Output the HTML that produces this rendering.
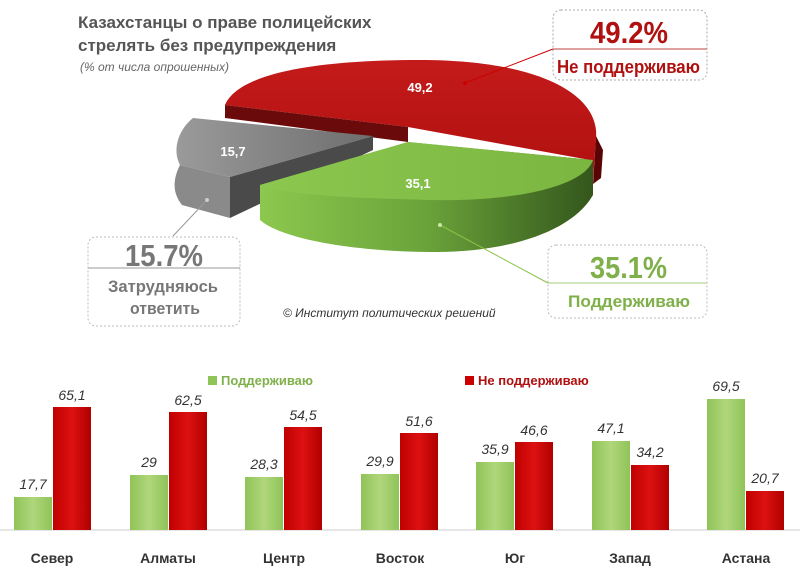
<!DOCTYPE html>
<html><head><meta charset="utf-8"><style>
body{margin:0;background:#fff;}
svg{display:block;font-family:"Liberation Sans",sans-serif;}
</style></head><body>
<svg width="800" height="574" viewBox="0 0 800 574">
<defs>
<linearGradient id="gside" x1="0" x2="1"><stop offset="0" stop-color="#8cc84e"/><stop offset="0.5" stop-color="#6aa33a"/><stop offset="1" stop-color="#34561c"/></linearGradient>
<linearGradient id="gtop" x1="0" x2="1"><stop offset="0" stop-color="#8cc850"/><stop offset="1" stop-color="#7ab640"/></linearGradient>
<linearGradient id="rtop" x1="0" y1="0" x2="0" y2="1"><stop offset="0" stop-color="#c41a1a"/><stop offset="1" stop-color="#b01010"/></linearGradient>
<linearGradient id="gray" x1="0" x2="1"><stop offset="0" stop-color="#9a9a9a"/><stop offset="1" stop-color="#6e6e6e"/></linearGradient>
<linearGradient id="bg" x1="0" x2="1"><stop offset="0" stop-color="#8fc458"/><stop offset="0.5" stop-color="#b0d67c"/><stop offset="1" stop-color="#8fc458"/></linearGradient>
<linearGradient id="br" x1="0" x2="1"><stop offset="0" stop-color="#c00000"/><stop offset="0.5" stop-color="#dd1111"/><stop offset="1" stop-color="#b00000"/></linearGradient>
</defs>
<text x="78" y="28" font-size="17" font-weight="bold" fill="#555">Казахстанцы о праве полицейских</text>
<text x="78" y="51" font-size="17" font-weight="bold" fill="#555">стрелять без предупреждения</text>
<text x="80" y="71" font-size="12" font-style="italic" fill="#666">(% от числа опрошенных)</text>

<!-- red -->
<path d="M596,136 L603,150 L601,178 L593,184 Z" fill="#5a0505"/>
<path d="M225,105 C240,70 330,60 420,60 C540,60 600,95 596,138 L593,180 L590,180 L590,160 L408,127 Z" fill="url(#rtop)"/>
<path d="M225,105 L408,127 L408,142 L225,118 Z" fill="#6a0a0a"/>
<!-- gray -->
<path d="M193,118 L373,136 L230,177 L180,165 C172,150 178,130 193,118 Z" fill="url(#gray)"/>
<path d="M373,136 L373,150 L230,218 L230,177 Z" fill="#4a4a4a"/>
<path d="M180,165 L230,177 L230,218 L182,205 C170,190 175,175 180,165 Z" fill="#8a8a8a"/>
<!-- green -->
<path d="M408,142 L593,160 L593,195 C570,235 500,252 437,252 C350,252 280,238 260,220 L260,185 Z" fill="url(#gside)"/>
<path d="M408,142 L593,160 C585,185 520,202 430,200 C350,198 285,195 260,185 Z" fill="url(#gtop)"/>
<text x="420" y="92" font-size="13" font-weight="bold" fill="#fff" text-anchor="middle">49,2</text>
<text x="233" y="156" font-size="13" font-weight="bold" fill="#fff" text-anchor="middle">15,7</text>
<text x="418" y="188" font-size="13" font-weight="bold" fill="#fff" text-anchor="middle">35,1</text>
<!-- leaders -->
<line x1="465" y1="83" x2="553" y2="49" stroke="#c00" stroke-width="1"/><circle cx="465" cy="83" r="2" fill="#c00"/>
<line x1="207" y1="200" x2="173" y2="236" stroke="#999"/><circle cx="207" cy="200" r="2" fill="#ccc"/>
<line x1="440" y1="225" x2="548" y2="283" stroke="#8bc34a"/><circle cx="440" cy="225" r="2" fill="#cfe6a8"/>
<!-- boxes -->
<rect x="553" y="10" width="154" height="70" rx="8" fill="#fff" stroke="#aaa" stroke-dasharray="2,2"/>
<line x1="553" y1="49" x2="707" y2="49" stroke="#c04040"/>
<text x="590" y="43" font-size="31" font-weight="bold" fill="#b01010" textLength="78" lengthAdjust="spacingAndGlyphs">49.2%</text>
<text x="557" y="73" font-size="18" font-weight="bold" fill="#b01010" textLength="143" lengthAdjust="spacingAndGlyphs">Не поддерживаю</text>
<rect x="88" y="237" width="152" height="89" rx="8" fill="#fff" stroke="#bbb" stroke-dasharray="2,2"/>
<line x1="88" y1="268" x2="240" y2="268" stroke="#999"/>
<text x="125" y="266" font-size="31" font-weight="bold" fill="#777" textLength="78" lengthAdjust="spacingAndGlyphs">15.7%</text>
<text x="108" y="292" font-size="17" font-weight="bold" fill="#777" textLength="110" lengthAdjust="spacingAndGlyphs">Затрудняюсь</text>
<text x="130" y="314" font-size="17" font-weight="bold" fill="#777" textLength="70" lengthAdjust="spacingAndGlyphs">ответить</text>
<rect x="548" y="245" width="159" height="73" rx="8" fill="#fff" stroke="#bbb" stroke-dasharray="2,2"/>
<line x1="548" y1="283" x2="707" y2="283" stroke="#a6cc7a"/>
<text x="590" y="278" font-size="31" font-weight="bold" fill="#7fb04a" textLength="77" lengthAdjust="spacingAndGlyphs">35.1%</text>
<text x="568" y="307" font-size="17" font-weight="bold" fill="#7fb04a" textLength="122" lengthAdjust="spacingAndGlyphs">Поддерживаю</text>
<text x="283" y="317" font-size="12" font-style="italic" fill="#333">© Институт политических решений</text>
<!-- legend -->
<rect x="208" y="376" width="9" height="9" fill="#8fc458"/>
<text x="221" y="385" font-size="13" font-weight="bold" fill="#7fb04a">Поддерживаю</text>
<rect x="465" y="376" width="9" height="9" fill="#cc0000"/>
<text x="478" y="385" font-size="13" font-weight="bold" fill="#b01010">Не поддерживаю</text>
<line x1="0" y1="530" x2="800" y2="530" stroke="#ccc"/>
<g font-size="14" font-style="italic" fill="#333" text-anchor="middle">
<rect x="14" y="497" width="38" height="33" fill="url(#bg)"/><rect x="53" y="407" width="38" height="123" fill="url(#br)"/>
<text x="33" y="489">17,7</text><text x="72" y="400">65,1</text>
<rect x="130" y="475" width="38" height="55" fill="url(#bg)"/><rect x="169" y="412" width="38" height="118" fill="url(#br)"/>
<text x="149" y="467">29</text><text x="188" y="405">62,5</text>
<rect x="245" y="477" width="38" height="53" fill="url(#bg)"/><rect x="284" y="427" width="38" height="103" fill="url(#br)"/>
<text x="264" y="469">28,3</text><text x="303" y="420">54,5</text>
<rect x="361" y="474" width="38" height="56" fill="url(#bg)"/><rect x="400" y="433" width="38" height="97" fill="url(#br)"/>
<text x="380" y="466">29,9</text><text x="419" y="426">51,6</text>
<rect x="476" y="462" width="38" height="68" fill="url(#bg)"/><rect x="515" y="442" width="38" height="88" fill="url(#br)"/>
<text x="495" y="454">35,9</text><text x="534" y="435">46,6</text>
<rect x="592" y="441" width="38" height="89" fill="url(#bg)"/><rect x="631" y="465" width="38" height="65" fill="url(#br)"/>
<text x="611" y="433">47,1</text><text x="650" y="457">34,2</text>
<rect x="707" y="399" width="38" height="131" fill="url(#bg)"/><rect x="746" y="491" width="38" height="39" fill="url(#br)"/>
<text x="726" y="391">69,5</text><text x="765" y="483">20,7</text>
</g>
<g font-size="14" font-weight="bold" fill="#333" text-anchor="middle">
<text x="52" y="563">Север</text><text x="168" y="563">Алматы</text><text x="284" y="563">Центр</text><text x="400" y="563">Восток</text><text x="515" y="563">Юг</text><text x="630" y="563">Запад</text><text x="746" y="563">Астана</text>
</g>
</svg>
</body></html>
